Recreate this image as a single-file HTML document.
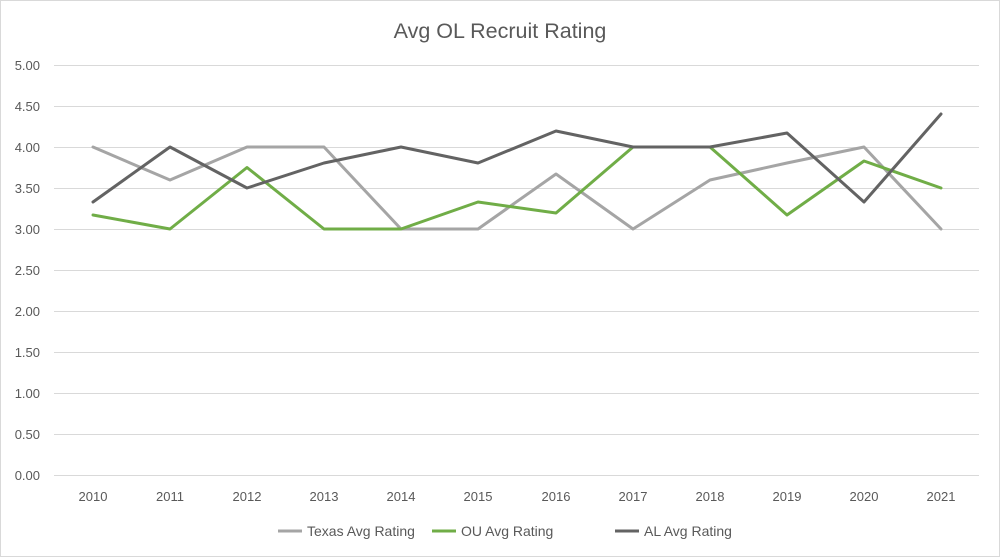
<!DOCTYPE html>
<html><head><meta charset="utf-8"><style>
html,body{margin:0;padding:0;background:#fff;}
svg{display:block;font-family:"Liberation Sans",sans-serif;}
</style></head><body>
<svg width="1000" height="557" viewBox="0 0 1000 557">
<rect x="0.5" y="0.5" width="999" height="556" fill="#fff" stroke="#d9d9d9"/>
<text x="500" y="38" text-anchor="middle" font-size="21.5" fill="#595959">Avg OL Recruit Rating</text>
<g stroke="#d9d9d9" stroke-width="1">
<line x1="54" x2="979" y1="65.5" y2="65.5"/>
<line x1="54" x2="979" y1="106.5" y2="106.5"/>
<line x1="54" x2="979" y1="147.5" y2="147.5"/>
<line x1="54" x2="979" y1="188.5" y2="188.5"/>
<line x1="54" x2="979" y1="229.5" y2="229.5"/>
<line x1="54" x2="979" y1="270.5" y2="270.5"/>
<line x1="54" x2="979" y1="311.5" y2="311.5"/>
<line x1="54" x2="979" y1="352.5" y2="352.5"/>
<line x1="54" x2="979" y1="393.5" y2="393.5"/>
<line x1="54" x2="979" y1="434.5" y2="434.5"/>
<line x1="54" x2="979" y1="475.5" y2="475.5"/>
</g>
<g font-size="13" fill="#595959" text-anchor="end">
<text x="40" y="70">5.00</text><text x="40" y="111">4.50</text><text x="40" y="152">4.00</text>
<text x="40" y="193">3.50</text><text x="40" y="234">3.00</text><text x="40" y="275">2.50</text>
<text x="40" y="316">2.00</text><text x="40" y="357">1.50</text><text x="40" y="398">1.00</text>
<text x="40" y="439">0.50</text><text x="40" y="480">0.00</text>
</g>
<g font-size="13" fill="#595959" text-anchor="middle">
<text x="93" y="501">2010</text><text x="170" y="501">2011</text><text x="247" y="501">2012</text>
<text x="324" y="501">2013</text><text x="401" y="501">2014</text><text x="478" y="501">2015</text>
<text x="556" y="501">2016</text><text x="633" y="501">2017</text><text x="710" y="501">2018</text>
<text x="787" y="501">2019</text><text x="864" y="501">2020</text><text x="941" y="501">2021</text>
</g>
<g fill="none" stroke-width="3" stroke-linejoin="round" stroke-linecap="round">
<polyline stroke="#a5a5a5" points="93,147 170,180 247,147 324,147 401,229 478,229 556,174 633,229 710,180 787,163 864,147 941,229"/>
<polyline stroke="#70ad47" points="93,215 170,229 247,167.5 324,229 401,229 478,202 556,213 633,147 710,147 787,215 864,161 941,188"/>
<polyline stroke="#636363" points="93,202 170,147 247,188 324,163 401,147 478,163 556,131 633,147 710,147 787,133 864,202 941,114"/>
</g>
<g font-size="14" fill="#595959">
<line x1="278" x2="302" y1="531" y2="531" stroke="#a5a5a5" stroke-width="3"/>
<text x="307" y="536">Texas Avg Rating</text>
<line x1="432" x2="456" y1="531" y2="531" stroke="#70ad47" stroke-width="3"/>
<text x="461" y="536">OU Avg Rating</text>
<line x1="615" x2="639" y1="531" y2="531" stroke="#636363" stroke-width="3"/>
<text x="644" y="536">AL Avg Rating</text>
</g>
</svg>
</body></html>
